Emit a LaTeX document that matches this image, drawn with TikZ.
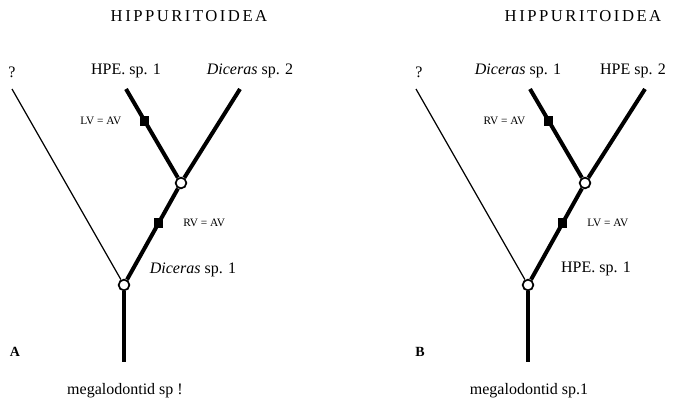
\documentclass[tikz,border=0pt]{standalone}
\usepackage{fontspec}
\setmainfont{Liberation Serif}
\usetikzlibrary{positioning}

\begin{document}
\begin{tikzpicture}[
        x=0.75pt, y=-0.75pt,
        font=\fontsize{12}{14}\selectfont,
        branch/.style={line width=3pt},
        stem/.style={line width=0.9pt},
        split/.style={circle, draw, line width=1.3pt, fill=white, inner sep=0pt, minimum size=8pt},
        apo/.style={rectangle, fill=black, inner sep=0pt, minimum size=7pt},
        cond/.style={font=\fontsize{8.5}{10}\selectfont},
        head/.style={font=\fontsize{12.5}{14}\selectfont\addfontfeatures{LetterSpace=15}},
        panel/.style={font=\fontsize{10.5}{12}\selectfont\bfseries},
    ]
    \useasboundingbox (0,0) rectangle (684,404);

    % Panel A
    \node[head] (titleA) at (189,16) {HIPPURITOIDEA};
    \node[split] (rootA) at (124,285) {};
    \node[split] (forkA) at (181,183) {};
    \coordinate (qA) at (12,89);
    \coordinate (tipA1) at (126,89);
    \coordinate (tipA2) at (240,89);
    \coordinate (baseA) at (124,362);

    \draw[stem] (rootA) -- (qA);
    \draw[branch] (rootA) -- (baseA);
    \draw[branch] (rootA) -- node[apo, pos=0.62] (sqA1) {} (forkA);
    \draw[branch] (forkA) -- node[apo, pos=0.64] (sqA2) {} (tipA1);
    \draw[branch] (forkA) -- (tipA2);

    \node (qlblA) at (12,72) {?};
    \node (tipA1lbl) at (126,71) {HPE. sp. 1};
    \node (tipA2lbl) at (250,71) {\textit{Diceras} sp. 2};
    \node[cond, left=9pt of sqA2] (charA2) {LV = AV};
    \node[cond, right=10pt of sqA1] (charA1) {RV = AV};
    \node (nodeA1) at (193,270) {\textit{Diceras} sp. 1};
    \node[panel] (lblA) at (15,352) {A};
    \node (outA) at (125,391) {megalodontid sp !};

    % Panel B
    \node[head] (titleB) at (583,16) {HIPPURITOIDEA};
    \node[split] (rootB) at (528,285) {};
    \node[split] (forkB) at (585,183) {};
    \coordinate (qB) at (416,89);
    \coordinate (tipB1) at (530,89);
    \coordinate (tipB2) at (645,89);
    \coordinate (baseB) at (528,362);

    \draw[stem] (rootB) -- (qB);
    \draw[branch] (rootB) -- (baseB);
    \draw[branch] (rootB) -- node[apo, pos=0.62] (sqB1) {} (forkB);
    \draw[branch] (forkB) -- node[apo, pos=0.64] (sqB2) {} (tipB1);
    \draw[branch] (forkB) -- (tipB2);

    \node (qlblB) at (419,72) {?};
    \node (tipB1lbl) at (518,71) {\textit{Diceras} sp. 1};
    \node (tipB2lbl) at (633,71) {HPE sp. 2};
    \node[cond, left=9pt of sqB2] (charB2) {RV = AV};
    \node[cond, right=10pt of sqB1] (charB1) {LV = AV};
    \node (nodeB1) at (596,269) {HPE. sp. 1};
    \node[panel] (lblB) at (420,352) {B};
    \node (outB) at (529,391) {megalodontid sp.1};
\end{tikzpicture}
\end{document}
